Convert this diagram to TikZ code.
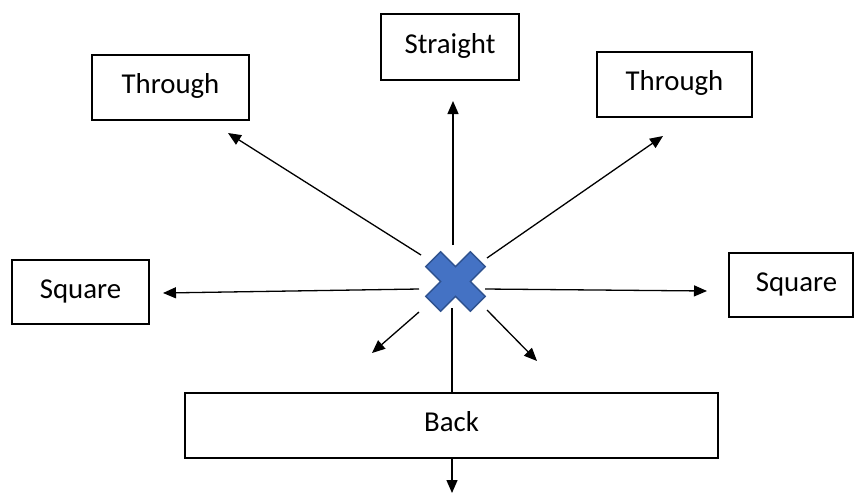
\documentclass[tikz,border=0pt]{standalone}
\usepackage{fontspec}
\setmainfont{Carlito}
\usetikzlibrary{arrows.meta}
\definecolor{crossfill}{HTML}{4472C4}
\definecolor{crossline}{HTML}{2F528F}
\tikzset{
  dirbox/.style={draw=black, line width=1pt, fill=white, inner sep=0pt,
    font=\fontsize{14.4pt}{17pt}\selectfont, text height=9.5pt, text depth=3.5pt},
  conn/.style={line width=0.65pt, -{Triangle[length=6.5pt,width=5.5pt]}},
  plainconn/.style={line width=0.65pt}
}
\begin{document}
\begin{tikzpicture}[x=0.5pt,y=-0.5pt]
\useasboundingbox (0,0) rectangle (856,494);
% boxes
\node[dirbox, minimum width=69pt, minimum height=33pt] (straight) at (450,47) {Straight};
\node[dirbox, minimum width=78.5pt, minimum height=32.5pt] (throughL) at (170.5,87.5) {Through};
\node[dirbox, minimum width=77.5pt, minimum height=32.5pt] (throughR) at (674.5,84.5) {Through};
\node[dirbox, minimum width=68.5pt, minimum height=32pt] (squareL) at (80.5,292) {Square};
\node[dirbox, minimum width=62pt, minimum height=32pt] (squareR) at (791,285) {\hspace*{5.5pt}Square};
\node[dirbox, minimum width=266.5pt, minimum height=32.5pt] (back) at (451.5,425.5) {Back};
% cross
\coordinate (centre) at (455.5,281.5);
\begin{scope}[shift={(centre)}, rotate=45]
\fill[crossfill, draw=crossline, line width=0.7pt, line join=miter]
  (10.5,10.5) -- (31.5,10.5) -- (31.5,-10.5) -- (10.5,-10.5) -- (10.5,-31.5) -- (-10.5,-31.5) -- (-10.5,-10.5)
  -- (-31.5,-10.5) -- (-31.5,10.5) -- (-10.5,10.5) -- (-10.5,31.5) -- (10.5,31.5) -- cycle;
\end{scope}
% connector end points
\coordinate (sUp) at (453,245);
\coordinate (tUp) at (453,101);
\coordinate (sUL) at (421,255);
\coordinate (tUL) at (228,133);
\coordinate (sUR) at (487,258);
\coordinate (tUR) at (663,136);
\coordinate (sL) at (419,289);
\coordinate (tL) at (163,293);
\coordinate (sR) at (485,289);
\coordinate (tR) at (707,291);
\coordinate (sLL) at (419,312);
\coordinate (tLL) at (372,353);
\coordinate (sLR) at (487,310);
\coordinate (tLR) at (537,361);
\coordinate (sD) at (452,308);
\coordinate (tB) at (452,493);
% connectors
\draw[conn] (sUp) -- (tUp);
\draw[conn] (sUL) -- (tUL);
\draw[conn] (sUR) -- (tUR);
\draw[conn] (sL) -- (tL);
\draw[conn] (sR) -- (tR);
\draw[conn] (sLL) -- (tLL);
\draw[conn] (sLR) -- (tLR);
\draw[plainconn] (sD) -- (sD |- back.north);
\draw[conn] (back.south -| tB) -- (tB);
\end{tikzpicture}
\end{document}
